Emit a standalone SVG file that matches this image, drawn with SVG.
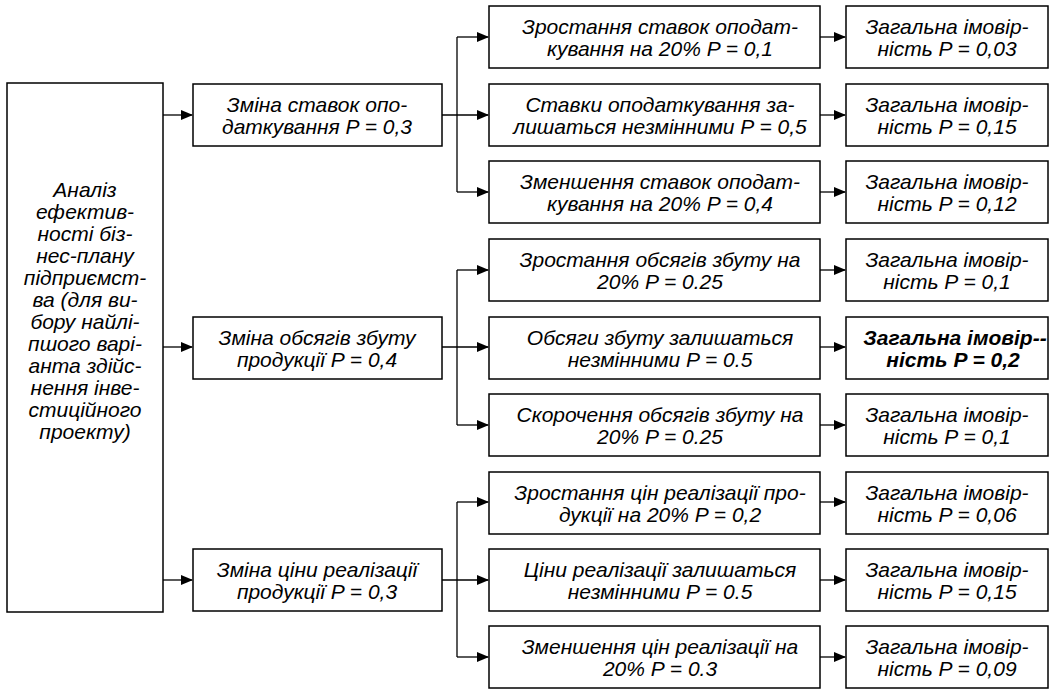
<svg xmlns="http://www.w3.org/2000/svg" width="1050" height="689" viewBox="0 0 1050 689">
<style>
rect.b{fill:#fff;stroke:#000;stroke-width:1.5}
text{font-family:"Liberation Sans",Arial,sans-serif;font-size:21px;font-style:italic;text-anchor:middle;fill:#000}
text.bold{font-weight:bold}
.c path{fill:none;stroke:#000;stroke-width:1.3}
</style>
<defs>
<marker id="ah" markerWidth="12" markerHeight="10" refX="11" refY="5" orient="auto" markerUnits="userSpaceOnUse">
<path d="M0,0 L12,5 L0,10 Z" fill="#000"/>
</marker>
</defs>
<g class="c" id="connectors">
<path d="M163,115 H192" marker-end="url(#ah)"/>
<path d="M163,347 H192" marker-end="url(#ah)"/>
<path d="M163,580 H192" marker-end="url(#ah)"/>
<path d="M442,115 H488" marker-end="url(#ah)"/>
<path d="M457,37 V192"/>
<path d="M457,37 H488" marker-end="url(#ah)"/>
<path d="M457,192 H488" marker-end="url(#ah)"/>
<path d="M442,347 H488" marker-end="url(#ah)"/>
<path d="M457,270 V425"/>
<path d="M457,270 H488" marker-end="url(#ah)"/>
<path d="M457,425 H488" marker-end="url(#ah)"/>
<path d="M442,580 H488" marker-end="url(#ah)"/>
<path d="M457,502 V657"/>
<path d="M457,502 H488" marker-end="url(#ah)"/>
<path d="M457,657 H488" marker-end="url(#ah)"/>
<path d="M820,37 H845" marker-end="url(#ah)"/>
<path d="M820,115 H845" marker-end="url(#ah)"/>
<path d="M820,192 H845" marker-end="url(#ah)"/>
<path d="M820,270 H845" marker-end="url(#ah)"/>
<path d="M820,347 H845" marker-end="url(#ah)"/>
<path d="M820,425 H845" marker-end="url(#ah)"/>
<path d="M820,502 H845" marker-end="url(#ah)"/>
<path d="M820,580 H845" marker-end="url(#ah)"/>
<path d="M820,657 H845" marker-end="url(#ah)"/>
</g>
<g id="root">
<rect class="b" x="7" y="83" width="156" height="529"/>
<text x="85" y="197">Аналіз</text>
<text x="85" y="219">ефектив-</text>
<text x="85" y="241">ності біз-</text>
<text x="85" y="263">нес-плану</text>
<text x="85" y="285">підприємст-</text>
<text x="85" y="307">ва (для ви-</text>
<text x="85" y="329">бору найлі-</text>
<text x="85" y="351">пшого варі-</text>
<text x="85" y="373">анта здійс-</text>
<text x="85" y="395">нення інве-</text>
<text x="85" y="417">стиційного</text>
<text x="85" y="439">проекту)</text>
</g>
<g id="m1">
<rect class="b" x="193" y="84" width="249" height="62"/>
<text x="317" y="112">Зміна ставок опо-</text>
<text x="317" y="134">даткування P = 0,3</text>
</g>
<g id="m2">
<rect class="b" x="193" y="317" width="249" height="62"/>
<text x="317" y="345">Зміна обсягів збуту</text>
<text x="317" y="367">продукції P = 0,4</text>
</g>
<g id="m3">
<rect class="b" x="193" y="549" width="249" height="62"/>
<text x="317" y="577">Зміна ціни реалізації</text>
<text x="317" y="599">продукції P = 0,3</text>
</g>
<g id="r1">
<rect class="b" x="489" y="6" width="331" height="62"/>
<text x="660" y="34">Зростання ставок оподат-</text>
<text x="660" y="56">кування на 20% P = 0,1</text>
</g>
<g id="r2">
<rect class="b" x="489" y="84" width="331" height="62"/>
<text x="660" y="112">Ставки оподаткування за-</text>
<text x="660" y="134">лишаться незмінними P = 0,5</text>
</g>
<g id="r3">
<rect class="b" x="489" y="161" width="331" height="62"/>
<text x="660" y="189">Зменшення ставок оподат-</text>
<text x="660" y="211">кування на 20% P = 0,4</text>
</g>
<g id="r4">
<rect class="b" x="489" y="239" width="331" height="62"/>
<text x="660" y="267">Зростання обсягів збуту на</text>
<text x="660" y="289">20% P = 0.25</text>
</g>
<g id="r5">
<rect class="b" x="489" y="317" width="331" height="62"/>
<text x="660" y="345">Обсяги збуту залишаться</text>
<text x="660" y="367">незмінними P = 0.5</text>
</g>
<g id="r6">
<rect class="b" x="489" y="394" width="331" height="62"/>
<text x="660" y="422">Скорочення обсягів збуту на</text>
<text x="660" y="444">20% P = 0.25</text>
</g>
<g id="r7">
<rect class="b" x="489" y="472" width="331" height="62"/>
<text x="660" y="500">Зростання цін реалізації про-</text>
<text x="660" y="522">дукції на 20% P = 0,2</text>
</g>
<g id="r8">
<rect class="b" x="489" y="549" width="331" height="62"/>
<text x="660" y="577">Ціни реалізації залишаться</text>
<text x="660" y="599">незмінними P = 0.5</text>
</g>
<g id="r9">
<rect class="b" x="489" y="626" width="331" height="62"/>
<text x="660" y="654">Зменшення цін реалізації на</text>
<text x="660" y="676">20% P = 0.3</text>
</g>
<g id="f1">
<rect class="b" x="846" y="6" width="202" height="62"/>
<text x="947" y="34">Загальна імовір-</text>
<text x="947" y="56">ність P = 0,03</text>
</g>
<g id="f2">
<rect class="b" x="846" y="84" width="202" height="62"/>
<text x="947" y="112">Загальна імовір-</text>
<text x="947" y="134">ність P = 0,15</text>
</g>
<g id="f3">
<rect class="b" x="846" y="161" width="202" height="62"/>
<text x="947" y="189">Загальна імовір-</text>
<text x="947" y="211">ність P = 0,12</text>
</g>
<g id="f4">
<rect class="b" x="846" y="239" width="202" height="62"/>
<text x="947" y="267">Загальна імовір-</text>
<text x="947" y="289">ність P = 0,1</text>
</g>
<g id="f5">
<rect class="b" x="846" y="317" width="202" height="62"/>
<text class="bold" x="955" y="345">Загальна імовір--</text>
<text class="bold" x="953" y="367">ність P = 0,2</text>
</g>
<g id="f6">
<rect class="b" x="846" y="394" width="202" height="62"/>
<text x="947" y="422">Загальна імовір-</text>
<text x="947" y="444">ність P = 0,1</text>
</g>
<g id="f7">
<rect class="b" x="846" y="472" width="202" height="62"/>
<text x="947" y="500">Загальна імовір-</text>
<text x="947" y="522">ність P = 0,06</text>
</g>
<g id="f8">
<rect class="b" x="846" y="549" width="202" height="62"/>
<text x="947" y="577">Загальна імовір-</text>
<text x="947" y="599">ність P = 0,15</text>
</g>
<g id="f9">
<rect class="b" x="846" y="626" width="202" height="62"/>
<text x="947" y="654">Загальна імовір-</text>
<text x="947" y="676">ність P = 0,09</text>
</g>
</svg>
